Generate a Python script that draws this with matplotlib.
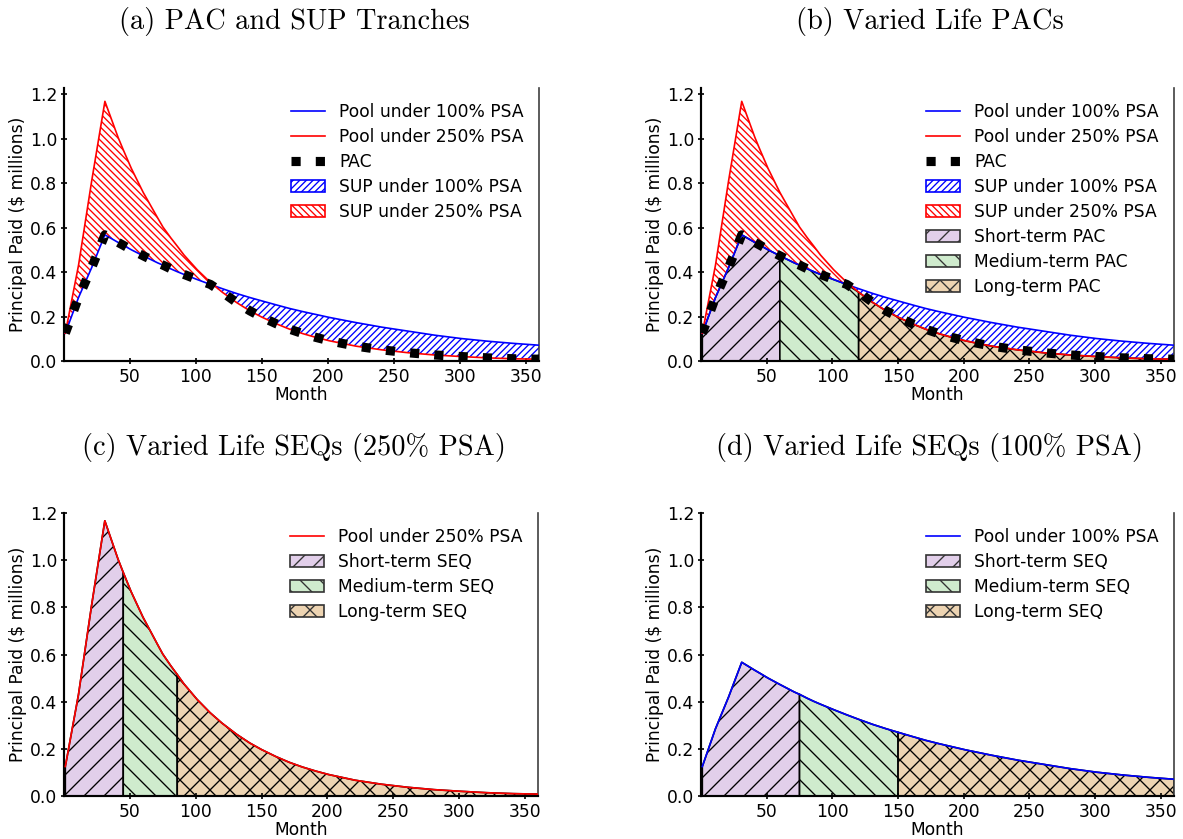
import numpy as np
import matplotlib
matplotlib.use("Agg")
import matplotlib.pyplot as plt
from matplotlib.patches import Patch
from matplotlib.lines import Line2D

# ---------------- data ----------------
months = [1, 11, 21, 31, 41, 45, 51, 60, 71, 75, 81, 86, 91, 101, 111, 120,
          131, 141, 150, 161, 171, 181, 191, 201, 221, 241, 261, 281, 301,
          321, 341, 360]

pool_100 = [0.125, 0.285, 0.420, 0.567, 0.533, 0.520, 0.500, 0.473, 0.441,
            0.431, 0.414, 0.401, 0.389, 0.366, 0.344, 0.325, 0.303, 0.285,
            0.270, 0.252, 0.236, 0.222, 0.209, 0.196, 0.173, 0.152, 0.134,
            0.116, 0.101, 0.089, 0.079, 0.071]

pool_250 = [0.125, 0.430, 0.810, 1.167, 1.005, 0.948, 0.866, 0.758, 0.643,
            0.602, 0.553, 0.515, 0.476, 0.410, 0.353, 0.309, 0.262, 0.225,
            0.197, 0.167, 0.143, 0.123, 0.106, 0.091, 0.067, 0.050, 0.037,
            0.027, 0.020, 0.014, 0.010, 0.008]

pac = [0.125, 0.285, 0.420, 0.567, 0.533, 0.520, 0.500, 0.473, 0.441,
       0.431, 0.414, 0.401, 0.389, 0.366, 0.344, 0.309, 0.262, 0.225,
       0.197, 0.167, 0.143, 0.123, 0.106, 0.091, 0.067, 0.050, 0.037,
       0.027, 0.020, 0.014, 0.010, 0.008]

pac_cuts = [1, 60, 120, 360]
seq250_cuts = [1, 45, 86, 360]
seq100_cuts = [1, 75, 150, 360]

xtick_vals = [50, 100, 150, 200, 250, 300, 350]
ytick_vals = [0.0, 0.2, 0.4, 0.6, 0.8, 1.0, 1.2]

titles = ["(a) PAC and SUP Tranches", "(b) Varied Life PACs",
          "(c) Varied Life SEQs (250% PSA)", "(d) Varied Life SEQs (100% PSA)"]

tranche_colors = ["#e2cfea", "#cfebcd", "#edd4b2"]
tranche_hatches = ["//", "\\\\", "xx"]
sup100_hatch = "//////"
sup250_hatch = "\\\\\\\\\\\\"

m = np.array(months)
b100 = np.array(pool_100)
r250 = np.array(pool_250)
p = np.array(pac)

# ---------------- figure ----------------
plt.rcParams["font.family"] = ["DejaVu Sans"]
plt.rcParams["font.size"] = 10
plt.rcParams["hatch.linewidth"] = 0.8

W, H = 1183, 839
DPI = 120
fig = plt.figure(figsize=(W / DPI, H / DPI), dpi=DPI)

def frac(l, r, t, b):
    return [l / W, 1 - b / H, (r - l) / W, (b - t) / H]

ax_a = fig.add_axes(frac(64, 539, 88, 361))
ax_b = fig.add_axes(frac(701, 1174, 88, 361))
ax_c = fig.add_axes(frac(64, 538, 513, 796))
ax_d = fig.add_axes(frac(701, 1174, 513, 796))


def style(ax, ytop):
    ax.set_xlim(0, 360)
    ax.set_ylim(0, ytop)
    ax.set_xticks(xtick_vals)
    ax.set_yticks(ytick_vals)
    ax.set_yticklabels([f"{v:.1f}" for v in ytick_vals])
    ax.spines["top"].set_visible(False)
    ax.spines["right"].set_color("0.25")
    ax.spines["right"].set_linewidth(1.0)
    ax.spines["left"].set_linewidth(1.3)
    ax.spines["bottom"].set_linewidth(1.3)
    ax.tick_params(direction="inout", length=4, width=1.0, labelsize=10.3,
                   pad=2)
    ax.set_xlabel("Month", labelpad=0, fontsize=10.3)
    ax.set_ylabel("Principal Paid ($ millions)", labelpad=2, fontsize=10.3)


def tranche_fill(ax, x, y, cuts):
    for i in range(3):
        mask = (x >= cuts[i]) & (x <= cuts[i + 1])
        ax.fill_between(x[mask], 0, y[mask], facecolor=tranche_colors[i],
                        edgecolor="black", hatch=tranche_hatches[i],
                        linewidth=1.0, zorder=1)


def sup_fill(ax):
    ax.fill_between(m, p, b100, facecolor="none", edgecolor="blue",
                    hatch=sup100_hatch, linewidth=0, zorder=2)
    ax.fill_between(m, p, r250, facecolor="none", edgecolor="red",
                    hatch=sup250_hatch, linewidth=0, zorder=2)


def pool_lines(ax, which=("100", "250")):
    if "100" in which:
        ax.plot(m, b100, color="blue", lw=1.0, zorder=3)
    if "250" in which:
        ax.plot(m, r250, color="red", lw=1.0, zorder=3)


def pac_line(ax):
    ax.plot(m, p, color="black", lw=5.5, linestyle=":", zorder=4)


h_100 = Line2D([], [], color="blue", lw=1.0)
h_250 = Line2D([], [], color="red", lw=1.0)
h_pac = Line2D([], [], color="black", lw=5.5, linestyle=":")
h_sup100 = Patch(facecolor="none", edgecolor="blue", hatch=sup100_hatch, lw=1.0)
h_sup250 = Patch(facecolor="none", edgecolor="red", hatch=sup250_hatch, lw=1.0)


def tranche_handles():
    return [Patch(facecolor=tranche_colors[i], edgecolor="0.2",
                  hatch=tranche_hatches[i], lw=1.0) for i in range(3)]


leg_kw = dict(loc="upper right", frameon=False, fontsize=10.3,
              labelspacing=0.4, handlelength=2.0, handletextpad=0.8)

# (a)
sup_fill(ax_a)
pool_lines(ax_a)
pac_line(ax_a)
style(ax_a, 1.227)
ax_a.legend([h_100, h_250, h_pac, h_sup100, h_sup250],
            ["Pool under 100% PSA", "Pool under 250% PSA", "PAC",
             "SUP under 100% PSA", "SUP under 250% PSA"], **leg_kw)

# (b)
tranche_fill(ax_b, m, p, pac_cuts)
sup_fill(ax_b)
pool_lines(ax_b)
pac_line(ax_b)
style(ax_b, 1.227)
ax_b.legend([h_100, h_250, h_pac, h_sup100, h_sup250] + tranche_handles(),
            ["Pool under 100% PSA", "Pool under 250% PSA", "PAC",
             "SUP under 100% PSA", "SUP under 250% PSA",
             "Short-term PAC", "Medium-term PAC", "Long-term PAC"], **leg_kw)

# (c)
tranche_fill(ax_c, m, r250, seq250_cuts)
pool_lines(ax_c, ("250",))
style(ax_c, 1.2)
ax_c.legend([h_250] + tranche_handles(),
            ["Pool under 250% PSA", "Short-term SEQ", "Medium-term SEQ",
             "Long-term SEQ"], **leg_kw)

# (d)
tranche_fill(ax_d, m, b100, seq100_cuts)
pool_lines(ax_d, ("100",))
style(ax_d, 1.2)
ax_d.legend([h_100] + tranche_handles(),
            ["Pool under 100% PSA", "Short-term SEQ", "Medium-term SEQ",
             "Long-term SEQ"], **leg_kw)

# titles
title_kw = dict(fontsize=17, family="cmr10", ha="center", va="center")
fig.text(294 / W, 1 - 22 / H, titles[0], **title_kw)
fig.text(930 / W, 1 - 22 / H, titles[1], **title_kw)
fig.text(294 / W, 1 - 447 / H, titles[2], **title_kw)
fig.text(930 / W, 1 - 447 / H, titles[3], **title_kw)

fig.savefig("out.png", dpi=DPI)
